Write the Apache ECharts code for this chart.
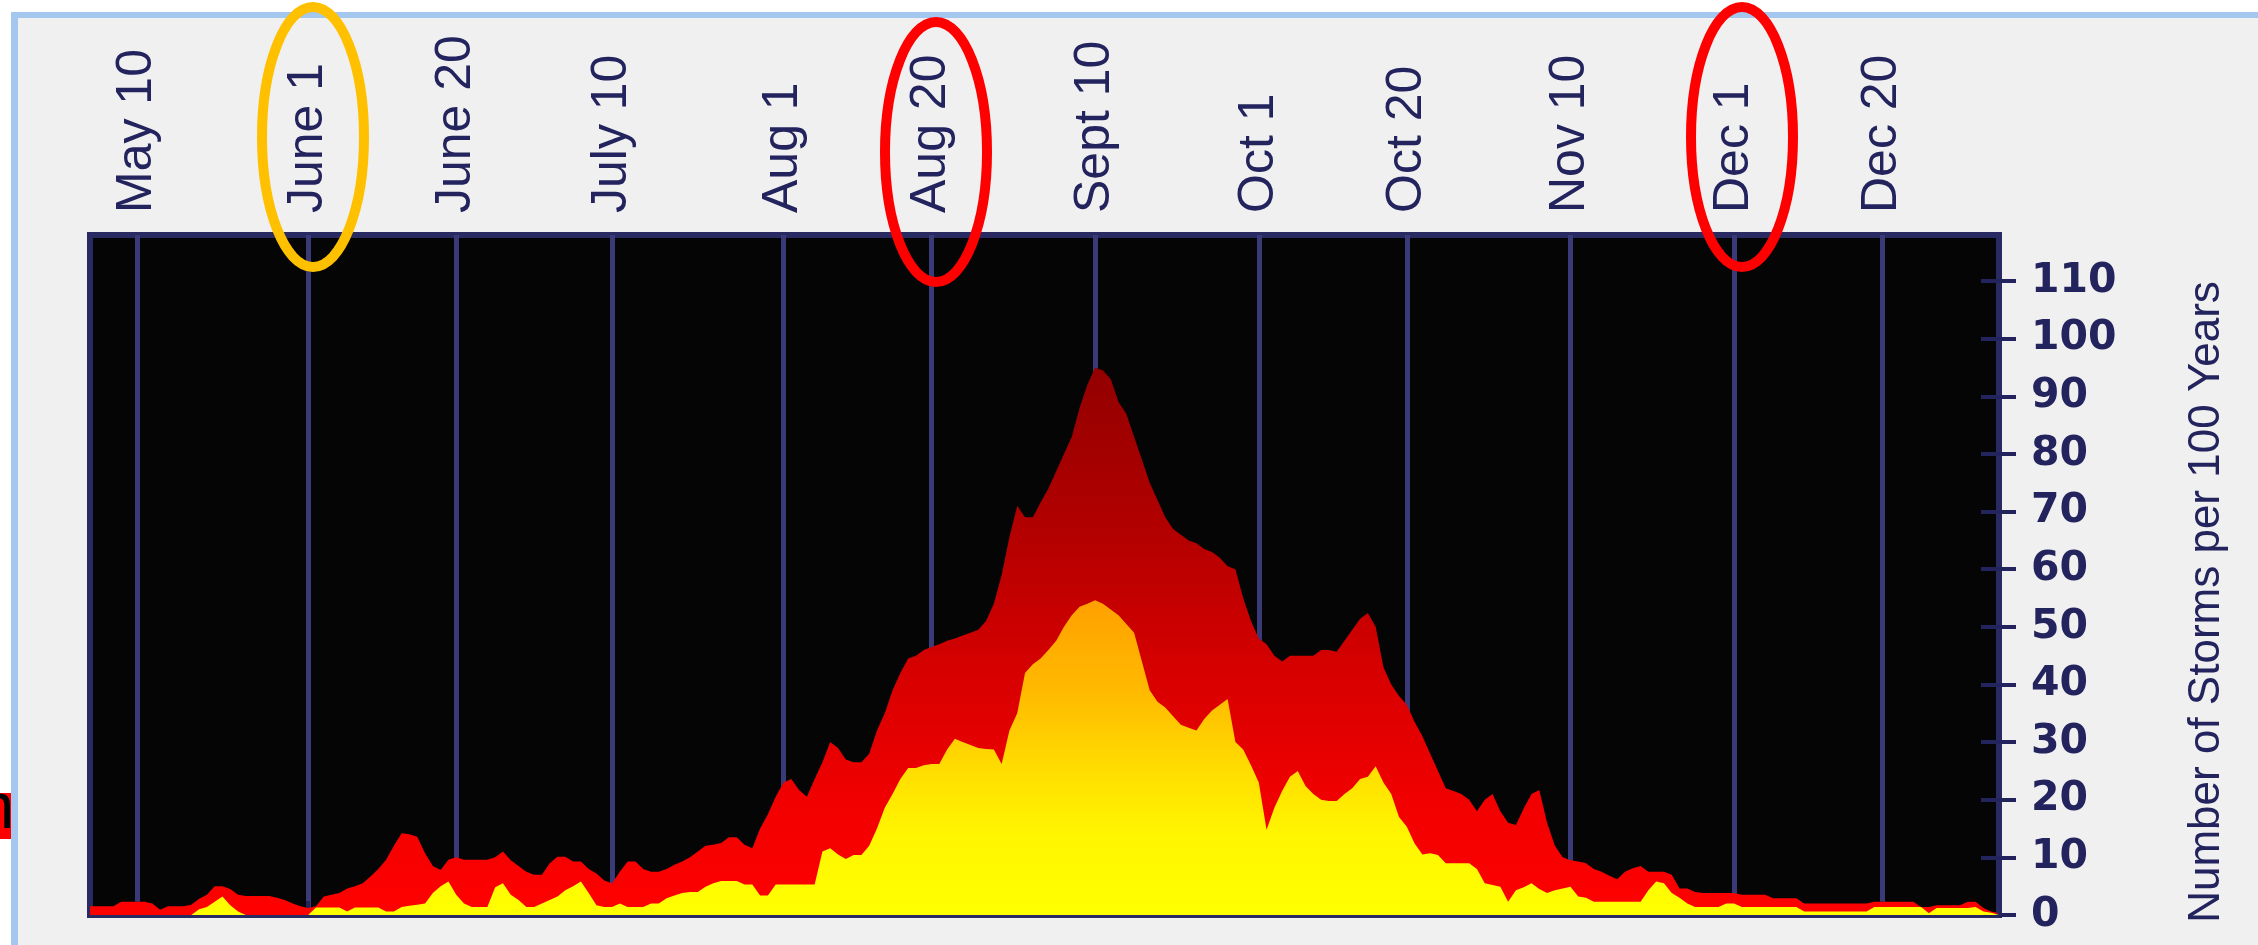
<!DOCTYPE html>
<html>
<head>
<meta charset="utf-8">
<script src="https://cdn.jsdelivr.net/npm/echarts@6/dist/echarts.min.js"></script>
<style>
html,body{margin:0;padding:0;background:#ffffff;}
#chart{width:2258px;height:945px;}
</style>
</head>
<body>
<div id="chart"></div>
<script>
// ---------- DATA ----------
const monthNames = [['May',31],['June',30],['July',31],['Aug',31],['Sept',30],['Oct',31],['Nov',30],['Dec',31],['Jan',31]];
const firstDayOfMay = 4;      // first category: May 4
const dayCount = 246;         // May 4 ... Jan 4
const tickLabels = ['May 10','June 1','June 20','July 10','Aug 1','Aug 20','Sept 10','Oct 1','Oct 20','Nov 10','Dec 1','Dec 20'];
const yTicks = [0,10,20,30,40,50,60,70,80,90,100,110];
const yAxisTitle = 'Number of Storms per 100 Years';

// Named storms (all) per 100 years, one value per day from May 4
const namedStorms = [
  1.5,1.5,1.5,1.5,2.3,2.3,2.3,2.3,2.0,0.9,
  1.5,1.5,1.5,1.8,2.8,3.5,5.0,5.0,4.5,3.5,
  3.3,3.3,3.3,3.3,3.0,2.6,2.0,1.5,1.2,1.5,
  3.2,3.5,3.8,4.6,5.0,5.5,6.7,8.0,9.6,12.0,
  14.2,14.0,13.6,10.7,8.5,7.8,9.6,10.0,9.6,9.6,
  9.6,9.6,10.0,11.0,9.5,8.5,7.5,7.0,7.0,9.0,
  10.1,10.1,9.3,9.3,8.0,7.2,6.0,5.5,7.5,9.3,
  9.3,8.0,7.5,7.5,8.0,8.7,9.3,10.0,11.0,12.0,
  12.2,12.5,13.5,13.5,12.2,11.6,15.0,17.5,20.5,23.0,
  23.6,21.7,20.5,23.6,26.5,30.0,29.0,27.0,26.5,26.5,
  28.0,32.0,35.0,39.0,42.0,44.5,45.0,46.0,46.5,47.0,
  47.6,48.0,48.5,49.0,49.5,51.0,54.0,59.0,65.6,71.0,
  69.0,69.0,71.6,74.0,77.0,80.0,83.0,88.0,92.0,95.0,
  94.5,93.0,89.0,87.0,83.0,79.0,75.0,72.0,69.0,67.0,
  66.0,65.0,64.5,63.5,63.0,62.0,60.5,60.0,55.0,51.0,
  48.0,47.0,45.0,44.0,45.0,45.0,45.0,45.0,46.0,46.0,
  45.7,47.6,49.5,51.4,52.4,50.0,43.0,40.0,38.0,36.5,
  33.5,31.0,28.0,25.0,22.0,21.5,21.0,20.0,18.0,20.0,
  21.0,18.0,16.0,15.6,18.5,21.0,21.7,16.0,12.0,10.0,
  9.5,9.3,9.0,8.0,7.5,6.8,6.2,7.5,8.1,8.5,
  7.5,7.5,7.5,7.0,4.6,4.6,4.0,3.8,3.8,3.8,
  3.8,3.8,3.5,3.5,3.5,3.5,2.9,2.9,2.9,2.9,
  2.0,2.0,2.0,2.0,2.0,2.0,2.0,2.0,2.0,2.3,
  2.3,2.3,2.3,2.3,2.3,1.4,1.4,1.7,1.7,1.7,
  1.7,2.3,2.3,1.2,0.6,0.3
];

// Hurricanes per 100 years, one value per day from May 4
const hurricanes = [
  0,0,0,0,0,0,0,0,0,0,
  0,0,0,0,1.0,1.4,2.3,3.2,1.7,0.6,
  0,0,0,0,0,0,0,0,0,1.3,
  1.3,1.3,1.3,0.6,1.3,1.3,1.3,1.3,0.6,0.6,
  1.4,1.6,1.8,2.0,3.8,5.0,5.8,3.5,2.0,1.4,
  1.4,1.4,4.8,5.5,3.5,2.6,1.4,1.4,2.0,2.6,
  3.2,4.3,5.0,5.8,3.8,1.7,1.4,1.4,2.0,1.4,
  1.4,1.4,2.0,2.0,2.9,3.4,3.8,4.0,4.0,4.9,
  5.5,5.9,5.9,5.9,5.3,5.3,3.4,3.4,5.3,5.3,
  5.3,5.3,5.3,5.3,11.0,11.6,10.5,9.7,10.4,10.4,
  12.0,15.0,18.6,21.0,23.6,25.5,25.5,26.0,26.2,26.2,
  28.7,30.6,30.0,29.5,29.0,28.8,28.7,26.2,32.0,35.0,
  42.0,43.5,44.5,46.0,47.6,50.0,52.0,53.5,54.0,54.6,
  54.0,53.0,52.0,50.5,49.0,44.0,39.0,37.0,36.0,34.5,
  33.0,32.5,32.0,34.0,35.5,36.5,37.5,30.0,28.7,26.0,
  23.0,14.8,18.6,21.5,24.0,25.0,22.4,21.0,20.0,19.8,
  19.8,21.0,22.0,23.6,24.0,25.8,23.0,21.0,17.0,15.3,
  12.4,10.5,10.7,10.4,9.0,9.0,9.0,9.0,8.0,5.5,
  5.2,4.9,2.3,4.3,4.8,5.5,4.5,3.8,4.3,4.6,
  4.9,3.2,3.0,2.3,2.3,2.3,2.3,2.3,2.3,2.3,
  4.3,5.8,5.5,3.8,3.0,2.0,1.4,1.4,1.4,1.4,
  2.0,2.0,1.4,1.4,1.4,1.4,1.4,1.4,1.4,1.4,
  0.6,0.6,0.6,0.6,0.6,0.6,0.6,0.6,0.6,1.4,
  1.4,1.4,1.4,1.4,1.4,1.4,0.3,1.2,1.2,1.2,
  1.2,1.2,1.4,0.6,0.4,0
];

// ---------- categories (one per day) ----------
const days = [];
(function(){
  let m = 0, d = firstDayOfMay;
  for (let i = 0; i < dayCount; i++) {
    days.push(monthNames[m][0] + ' ' + d);
    d++;
    if (d > monthNames[m][1]) { m++; d = 1; }
  }
})();
const isTick = (idx, val) => tickLabels.indexOf(val) >= 0;

const navy = '#23235e';
const gridLineColor = '#3a3a78';

const chart = echarts.init(document.getElementById('chart'), null, {renderer: 'canvas'});
const option = {
  animation: false,
  backgroundColor: '#f0f0f0',
  grid: {
    left: 90, top: 235, width: 1909, height: 680,
    show: true, backgroundColor: '#050505',
    borderColor: '#2a2a62', borderWidth: 6,
    containLabel: false, outerBoundsMode: 'none'
  },
  xAxis: {
    type: 'category', data: days, position: 'top', boundaryGap: false,
    axisLine: {show: false},
    axisTick: {show: true, interval: isTick, length: 14, lineStyle: {color: navy, width: 4}},
    axisLabel: {
      show: true, interval: isTick, rotate: 90, margin: 22,
      color: navy, fontSize: 50, fontFamily: 'Liberation Sans'
    },
    splitLine: {show: true, interval: isTick, lineStyle: {color: gridLineColor, width: 5}}
  },
  yAxis: [
    {
      type: 'value', position: 'right', min: 0, max: 118, interval: 10,
      axisLine: {show: false},
      axisTick: {show: true, inside: true, length: 18, customValues: yTicks, lineStyle: {color: navy, width: 4}},
      axisLabel: {show: false},
      splitLine: {show: false}
    },
    {
      type: 'value', position: 'right', min: 0, max: 118, interval: 10,
      axisLine: {show: false},
      axisTick: {show: true, inside: false, length: 17, customValues: yTicks, lineStyle: {color: navy, width: 4}},
      axisLabel: {
        show: true, margin: 32, customValues: yTicks,
        color: navy, fontSize: 41, fontWeight: 'bold', fontFamily: 'DejaVu Sans'
      },
      splitLine: {show: false},
      name: yAxisTitle, nameLocation: 'middle', nameGap: 186,
      nameTextStyle: {color: navy, fontSize: 44, fontFamily: 'Liberation Sans', padding: [0, 54, 0, 0]}
    }
  ],
  series: [
    {
      name: 'Named storms', type: 'line', data: namedStorms,
      symbol: 'none', showSymbol: false, silent: true, z: 2,
      lineStyle: {width: 0},
      areaStyle: {
        opacity: 1,
        color: {type: 'linear', x: 0, y: 0, x2: 0, y2: 1, colorStops: [
          {offset: 0, color: '#930000'},
          {offset: 0.3, color: '#b30000'},
          {offset: 0.55, color: '#d60000'},
          {offset: 0.8, color: '#f20000'},
          {offset: 1, color: '#ff0000'}
        ]}
      }
    },
    {
      name: 'Hurricanes', type: 'line', data: hurricanes,
      symbol: 'none', showSymbol: false, silent: true, z: 3,
      lineStyle: {width: 0},
      areaStyle: {
        opacity: 1,
        color: {type: 'linear', x: 0, y: 0, x2: 0, y2: 1, colorStops: [
          {offset: 0, color: '#ffa000'},
          {offset: 0.3, color: '#ffbb00'},
          {offset: 0.55, color: '#ffdf00'},
          {offset: 0.75, color: '#fff600'},
          {offset: 1, color: '#ffff00'}
        ]}
      }
    }
  ],
  graphic: [
    {type: 'rect', z: 1, shape: {x: 0, y: 0, width: 2258, height: 12}, style: {fill: '#ffffff'}},
    {type: 'rect', z: 1, shape: {x: 0, y: 0, width: 11, height: 945}, style: {fill: '#ffffff'}},
    {type: 'rect', z: 2, shape: {x: 11, y: 12, width: 2247, height: 6}, style: {fill: '#a3c7ef'}},
    {type: 'rect', z: 2, shape: {x: 11, y: 12, width: 7, height: 933}, style: {fill: '#a3c7ef'}},
    {type: 'rect', z: 3, shape: {x: 0, y: 793, width: 11, height: 46}, style: {fill: '#ff0000'}},
    {type: 'text', z: 4, x: 14, y: 810, style: {text: 'n', fill: '#000000', font: '64px "Liberation Sans", sans-serif', textAlign: 'right', textVerticalAlign: 'middle'}},
    {type: 'ellipse', z: 100, shape: {cx: 313, cy: 137, rx: 51, ry: 130}, style: {fill: 'none', stroke: '#ffc000', lineWidth: 10}},
    {type: 'ellipse', z: 100, shape: {cx: 936, cy: 152, rx: 51, ry: 130}, style: {fill: 'none', stroke: '#ff0000', lineWidth: 10}},
    {type: 'ellipse', z: 100, shape: {cx: 1742, cy: 137, rx: 51, ry: 130}, style: {fill: 'none', stroke: '#ff0000', lineWidth: 10}}
  ]
};
chart.setOption(option);
</script>
</body>
</html>
